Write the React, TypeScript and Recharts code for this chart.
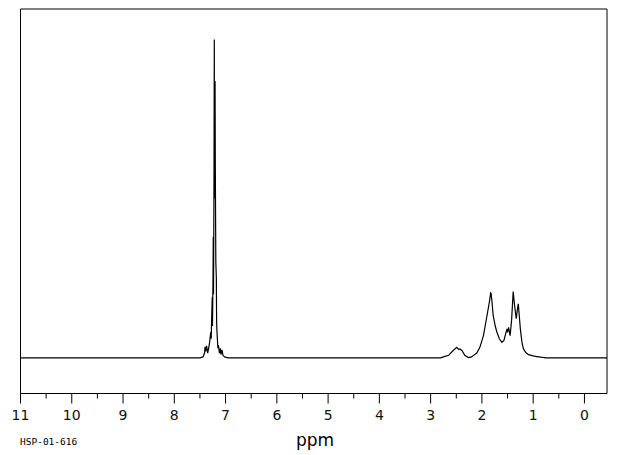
import { LineChart, Line, XAxis, YAxis, ReferenceLine } from 'recharts'

// 1H NMR spectrum (ppm, relative intensity, tallest peak = 100)
const PPM = [
  11.0, 7.5, 7.44, 7.41, 7.4, 7.39, 7.37, 7.35, 7.33, 7.31, 7.29, 7.28, 7.27, 7.26, 7.255,
  7.245, 7.24, 7.235, 7.225, 7.22, 7.215, 7.205, 7.2, 7.19, 7.18, 7.175, 7.17, 7.16, 7.15,
  7.14, 7.12, 7.1, 7.09, 7.07, 7.05, 7.02, 6.95,
  2.8, 2.75, 2.65, 2.56, 2.49, 2.45, 2.43, 2.39, 2.33, 2.26, 2.2, 2.17, 2.1, 2.04, 1.97,
  1.9, 1.85, 1.83, 1.82, 1.8, 1.78, 1.74, 1.71, 1.66, 1.61, 1.57, 1.53, 1.51, 1.5, 1.48,
  1.45, 1.42, 1.39, 1.36, 1.33, 1.31, 1.29, 1.27, 1.25, 1.22, 1.19, 1.14, 1.09, 1.0, 0.93,
  0.85, 0.75, -0.44,
]
const INTENSITY = [
  0, 0, 0.3, 1.5, 3.5, 2, 3.8, 1.5, 3, 5, 8, 6, 13, 19, 10,
  25, 38, 20, 60, 100, 50, 87, 60, 30, 25, 12, 9, 6, 3,
  4, 1.5, 3, 1, 2.5, 0.8, 0.3, 0,
  0, 0.3, 0.8, 2.3, 3.3, 2.6, 2.8, 2.3, 0.7, 0.1, 0.3, 0.7, 1.5, 3.3, 7,
  13.3, 18, 20.4, 20.2, 17, 13.3, 10, 8.2, 6, 4.9, 5.5, 8, 9.1, 8, 9.6,
  7, 12, 20.8, 16, 12.3, 15, 17, 13, 9.1, 5, 2.8, 1.6, 1, 0.6, 0.4,
  0.2, 0, 0,
]

const MAJOR_TICKS = [0, 1, 2, 3, 4, 5, 6, 7, 8, 9, 10, 11]
const MINOR_TICKS = [0.5, 1.5, 2.5, 3.5, 4.5, 5.5, 6.5, 7.5, 8.5, 9.5, 10.5]
const X_DOMAIN = [-0.44, 11]
const Y_DOMAIN = [-11.2, 109.6]

const data = PPM.map((p, i) => ({ ppm: p, v: INTENSITY[i] }))
const ticks = [...MAJOR_TICKS, ...MINOR_TICKS].sort((a, b) => a - b)

function PpmTick({ x, y, payload }: { x?: number; y?: number; payload?: { value: number } }) {
  if (x == null || y == null || !payload) return null
  const v = payload.value
  const major = Number.isInteger(v)
  return (
    <g>
      <line x1={x} x2={x} y1={y} y2={y + (major ? 10 : 5)} stroke="#000" strokeWidth={1} />
      {major && (
        <text x={x} y={y + 26.5} textAnchor="middle" fontSize={14} fontFamily="DejaVu Sans" fill="#111">
          {v}
        </text>
      )}
    </g>
  )
}

export default function App() {
  return (
    <div style={{ position: 'absolute', left: 0, top: 0, width: 620, height: 455, background: '#fff' }}>
      <LineChart width={620} height={455} data={data} margin={{ top: 9, right: 13, bottom: 31.5, left: 20.5 }}>
        <XAxis
          dataKey="ppm"
          type="number"
          domain={X_DOMAIN}
          reversed
          allowDataOverflow
          ticks={ticks}
          interval={0}
          tick={<PpmTick />}
          tickLine={false}
          tickSize={0}
          tickMargin={0}
          height={30}
          axisLine={{ stroke: '#000', strokeWidth: 1 }}
        />
        <YAxis hide type="number" domain={Y_DOMAIN} allowDataOverflow />
        <ReferenceLine x={X_DOMAIN[1]} stroke="#000" strokeWidth={1} />
        <ReferenceLine x={X_DOMAIN[0]} stroke="#000" strokeWidth={1} />
        <ReferenceLine y={Y_DOMAIN[1]} stroke="#000" strokeWidth={1} />
        <Line
          type="linear"
          dataKey="v"
          stroke="#000"
          strokeWidth={1.2}
          dot={false}
          isAnimationActive={false}
        />
      </LineChart>
      <div style={{ position: 'absolute', left: 296, top: 430, fontFamily: 'DejaVu Sans', fontSize: 17, color: '#000' }}>
        ppm
      </div>
      <div style={{ position: 'absolute', left: 20, top: 436, fontFamily: 'DejaVu Sans Mono', fontSize: 9.5, color: '#000' }}>
        HSP-01-616
      </div>
    </div>
  )
}
